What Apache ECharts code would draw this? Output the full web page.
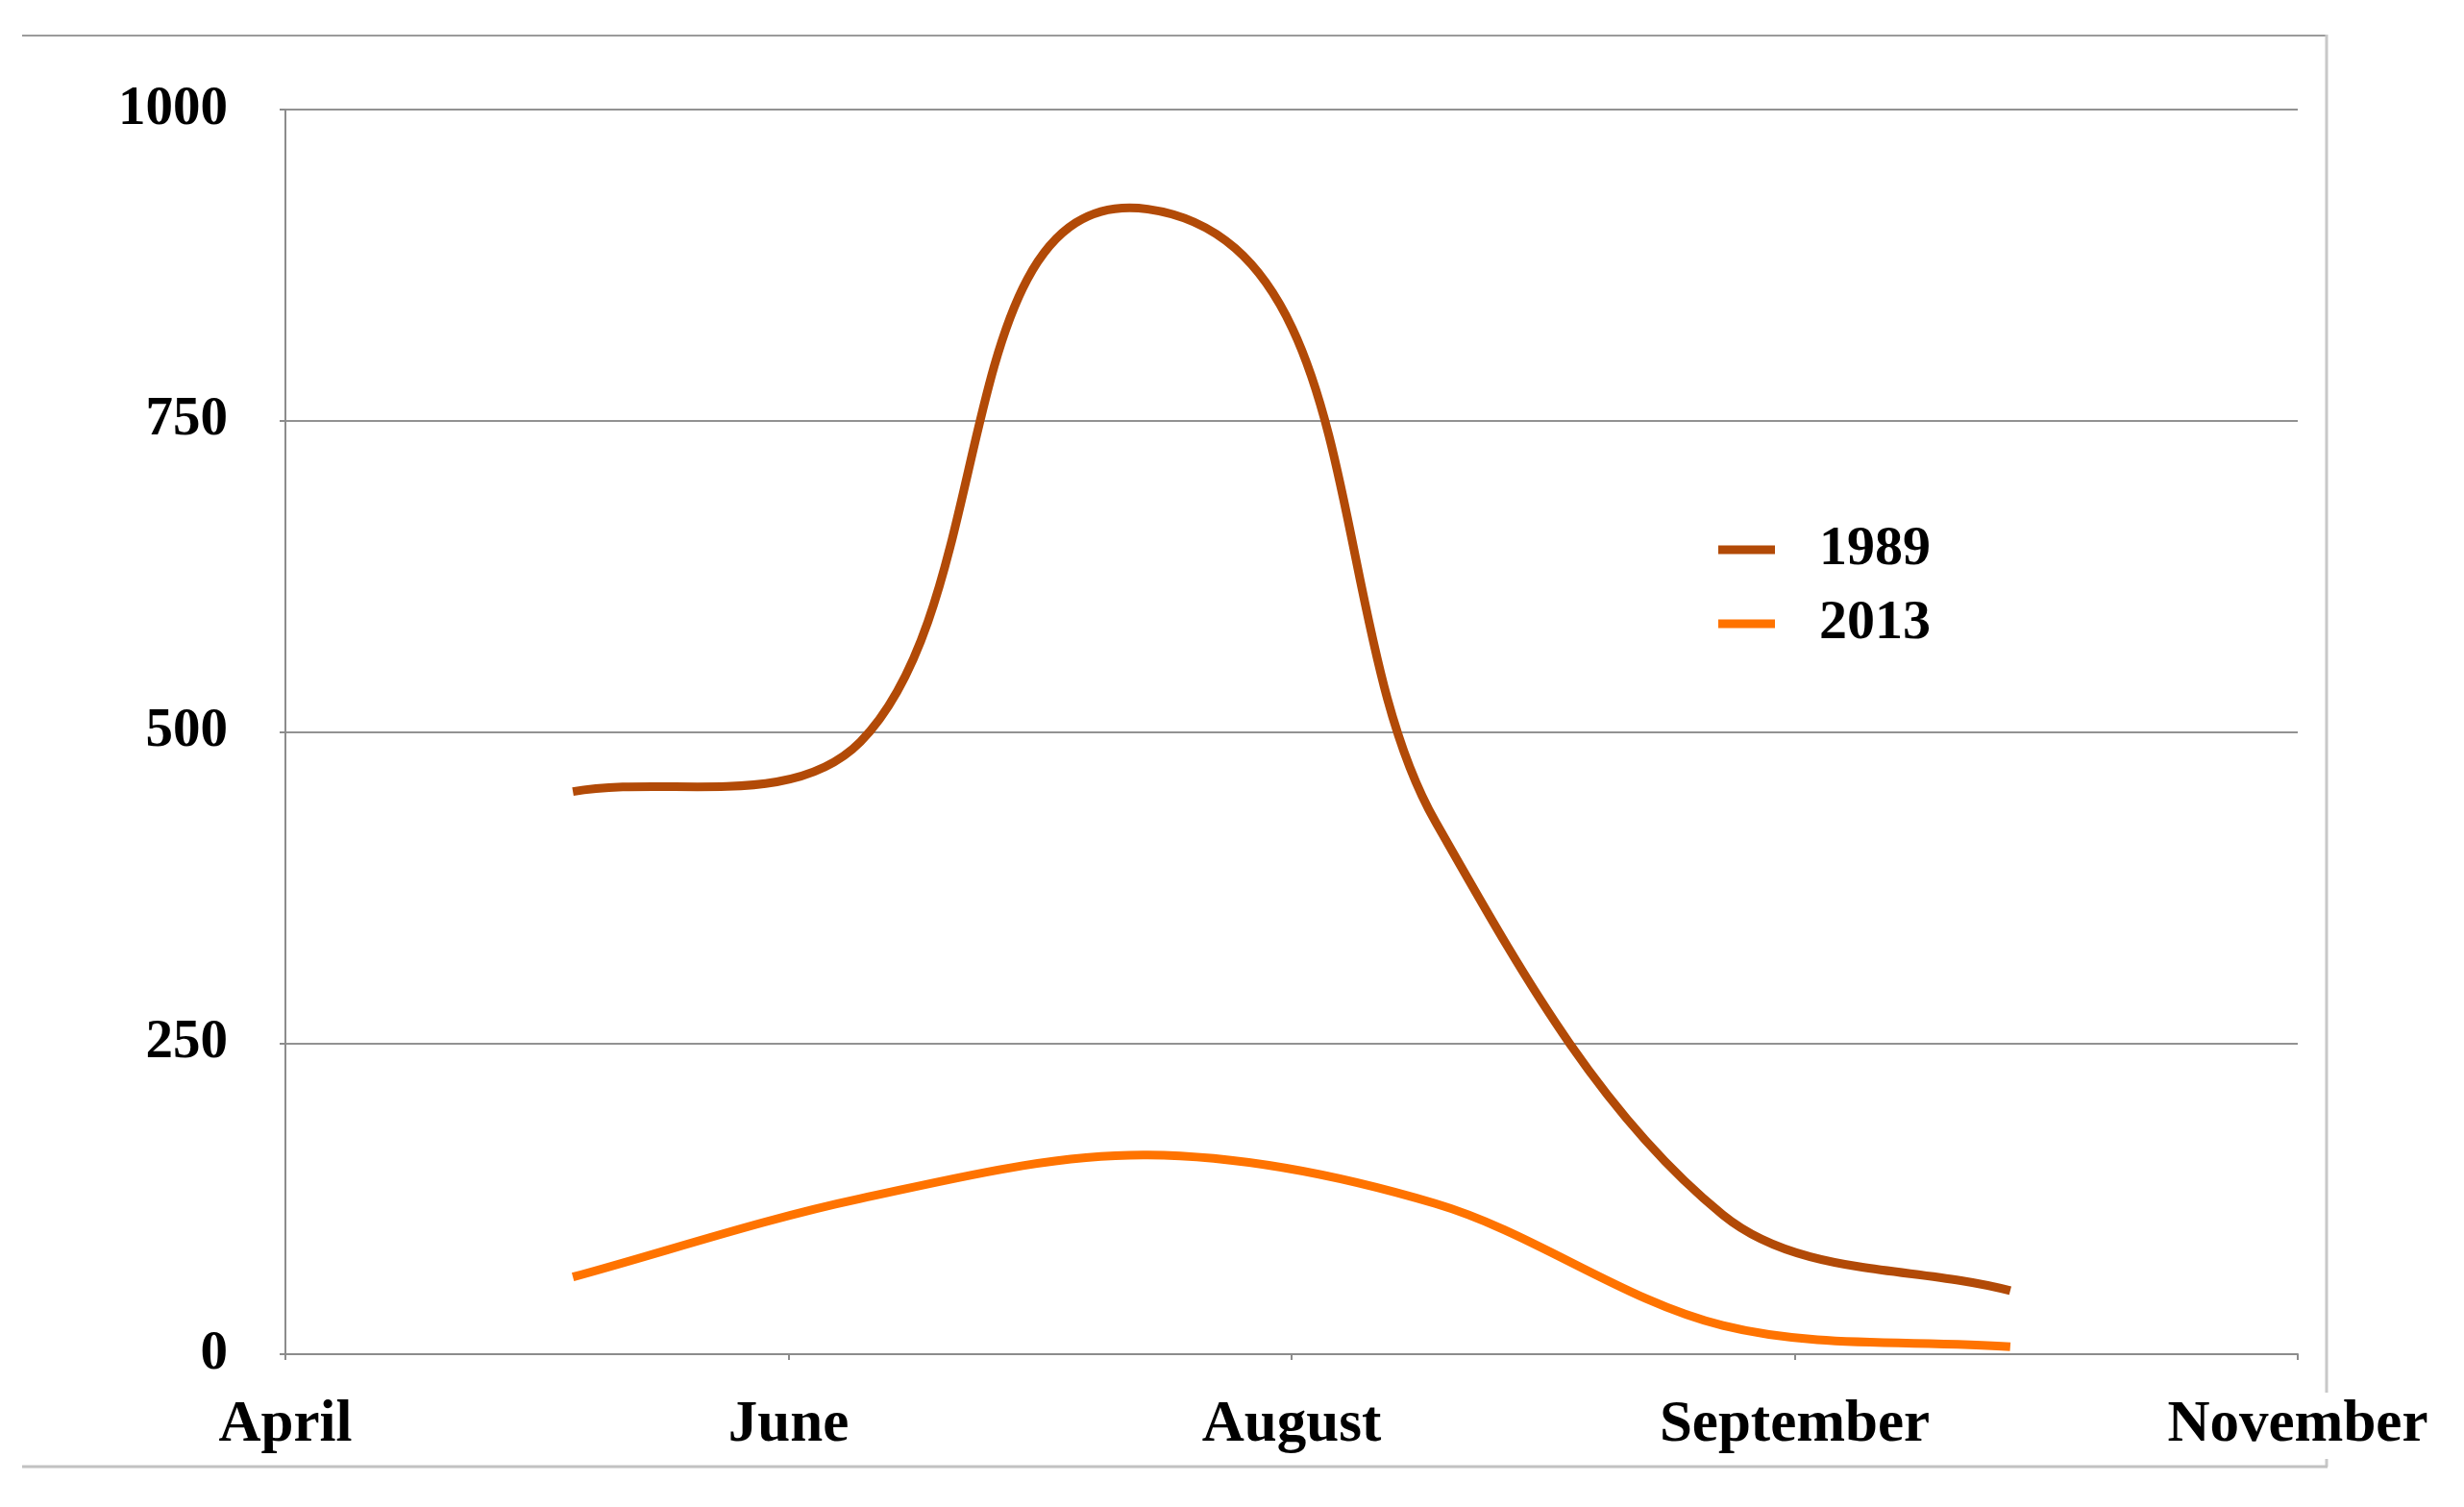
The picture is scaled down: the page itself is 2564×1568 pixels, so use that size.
<!DOCTYPE html>
<html>
<head>
<meta charset="utf-8">
<script src="https://cdn.jsdelivr.net/npm/echarts@6/dist/echarts.min.js"></script>
<style>
  html, body { margin: 0; padding: 0; background: #fff; }
  #chart { width: 2564px; height: 1568px; }
</style>
</head>
<body>
<div id="chart"></div>
<script>
// ---- data ----
const xTickLabels = ['April', 'June', 'August', 'September', 'November'];
const pointX = [4, 8, 12, 16, 20, 24];          // position of each monthly reading on the x scale (7 units per labelled tick)
const values1989 = [452, 492, 920, 428, 112, 51];
const values2013 = [62, 125, 160, 121, 23, 6];
const yTicks = [0, 250, 500, 750, 1000];
const seriesNames = ['1989', '2013'];
const seriesColors = ['#B24A07', '#FF7300'];

const FONT = '"Liberation Serif", "DejaVu Serif", serif';
const chart = echarts.init(document.getElementById('chart'), null, { renderer: 'canvas' });

function pairs(xs, ys) { return xs.map((x, i) => [x, ys[i]]); }

// Spreadsheet-style smoothed line: cubic Bezier per segment, tangent along the
// neighbour chord, control distance one third of the segment length (pixel space).
function smoothLineSeries(name, data, color) {
  return {
    name: name,
    type: 'custom',
    coordinateSystem: 'cartesian2d',
    color: color,
    itemStyle: { color: color },
    encode: { x: 0, y: 1 },
    data: data,
    renderItem: function (params, api) {
      if (params.dataIndex !== 0) return null;
      const pts = data.map(d => api.coord(d));
      const n = pts.length;
      function unitTan(i) {
        const a = pts[Math.max(0, i - 1)], b = pts[Math.min(n - 1, i + 1)];
        const dx = b[0] - a[0], dy = b[1] - a[1];
        const l = Math.sqrt(dx * dx + dy * dy) || 1;
        return [dx / l, dy / l];
      }
      let d = 'M' + pts[0][0] + ' ' + pts[0][1];
      for (let i = 0; i < n - 1; i++) {
        const p0 = pts[i], p1 = pts[i + 1];
        const L = Math.hypot(p1[0] - p0[0], p1[1] - p0[1]) / 3;
        const t0 = unitTan(i), t1 = unitTan(i + 1);
        d += ' C' + (p0[0] + t0[0] * L) + ' ' + (p0[1] + t0[1] * L) + ' ' +
             (p1[0] - t1[0] * L) + ' ' + (p1[1] - t1[1] * L) + ' ' + p1[0] + ' ' + p1[1];
      }
      return {
        type: 'path',
        shape: { pathData: d },
        style: { fill: null, stroke: color, lineWidth: 9, lineJoin: 'round', lineCap: 'butt' }
      };
    }
  };
}

const option = {
  animation: false,
  backgroundColor: '#ffffff',
  grid: { left: 297, top: 114, width: 2094, height: 1295, containLabel: false },
  xAxis: {
    type: 'value',
    min: 0, max: 28, interval: 7,
    z: 10,
    axisLine: { show: true, lineStyle: { color: '#8c8c8c', width: 2 } },
    axisTick: { show: true, length: 6, lineStyle: { color: '#8c8c8c', width: 2 } },
    splitLine: { show: false },
    axisLabel: {
      margin: 40,
      formatter: v => xTickLabels[Math.round(v / 7)] || '',
      fontFamily: FONT, fontWeight: 'bold', fontSize: 61, color: '#000',
      backgroundColor: '#ffffff', padding: [4, 6, 4, 6]
    }
  },
  yAxis: {
    type: 'value',
    min: yTicks[0], max: yTicks[yTicks.length - 1], interval: 250,
    axisLine: { show: true, lineStyle: { color: '#8c8c8c', width: 2 } },
    axisTick: { show: true, length: 6, lineStyle: { color: '#8c8c8c', width: 2 } },
    splitLine: { show: true, lineStyle: { color: '#929292', width: 2 } },
    axisLabel: {
      margin: 60, formatter: v => String(v),
      fontFamily: FONT, fontWeight: 'bold', fontSize: 57, color: '#000'
    }
  },
  legend: {
    orient: 'vertical',
    left: 1783, top: 538,
    icon: 'rect',
    itemWidth: 59, itemHeight: 9, itemGap: 19,
    data: seriesNames,
    textStyle: { fontFamily: FONT, fontWeight: 'bold', fontSize: 58, color: '#000', padding: [0, 0, 0, 41] }
  },
  series: [
    smoothLineSeries(seriesNames[0], pairs(pointX, values1989), seriesColors[0]),
    smoothLineSeries(seriesNames[1], pairs(pointX, values2013), seriesColors[1])
  ],
  graphic: [
    { type: 'line', z: -10, shape: { x1: 23, y1: 37, x2: 2421, y2: 37 }, style: { stroke: '#9b9b9b', lineWidth: 2 } },
    { type: 'line', z: -10, shape: { x1: 2421, y1: 36, x2: 2421, y2: 1526 }, style: { stroke: '#c8c8c8', lineWidth: 3 } },
    { type: 'line', z: -10, shape: { x1: 23, y1: 1526, x2: 2422, y2: 1526 }, style: { stroke: '#c2c2c2', lineWidth: 3 } }
  ]
};
chart.setOption(option);
</script>
</body>
</html>
